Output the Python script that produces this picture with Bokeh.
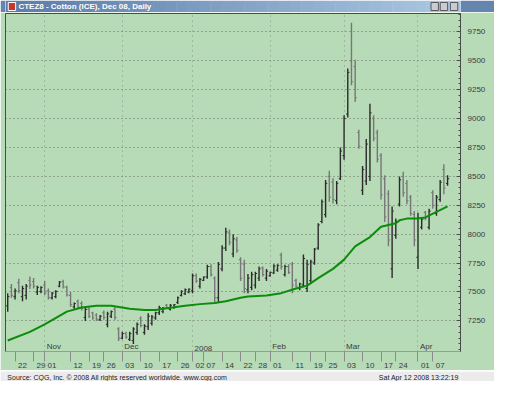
import numpy as np
from bokeh.plotting import figure
from bokeh.models import Range1d, FixedTicker, Label, ColumnDataSource
from bokeh.layouts import column
from bokeh.transform import dodge
from bokeh.embed import file_html
from bokeh.resources import INLINE

TITLE = "CTEZ8 - Cotton (ICE), Dec 08, Daily"
SOURCE = "Source: CQG, Inc. \u00a9 2008 All rights reserved worldwide. www.cqg.com"
STAMP = "Sat Apr 12 2008 13:22:19"

# ---- daily OHLC (one bar per trading day, Oct 18 2007 .. Apr 11 2008) ----
high = [7490, 7570, 7530, 7615, 7555, 7570, 7635, 7620, 7555, 7550,
        7595, 7530, 7500, 7515, 7595, 7605, 7555, 7500, 7410, 7435,
        7420, 7370, 7370, 7330, 7315, 7300, 7340, 7330, 7340, 7370,
        7195, 7155, 7155, 7155, 7195, 7235, 7290, 7220, 7315, 7300,
        7330, 7380, 7370, 7395, 7395, 7395, 7460, 7515, 7530, 7530,
        7660, 7660, 7620, 7635, 7735, 7740, 7635, 7760, 7905, 8055,
        8040, 8000, 7975, 7800, 7780, 7655, 7675, 7675, 7720, 7720,
        7700, 7675, 7740, 7740, 7840, 7735, 7740, 7760, 7615, 7580,
        7825, 7780, 7780, 7880, 8095, 8300, 8470, 8550, 8485, 8460,
        8750, 9030, 9435, 9830, 9510, 8905, 8590, 8825, 9130, 9030,
        8905, 8700, 8510, 8380, 8240, 8135, 8500, 8540, 8470, 8340,
        8200, 8185, 8145, 8200, 8220, 8380, 8340, 8470, 8605, 8510]
low = [7330, 7450, 7435, 7490, 7420, 7435, 7525, 7530, 7475, 7490,
       7475, 7435, 7435, 7445, 7540, 7530, 7460, 7370, 7355, 7355,
       7340, 7250, 7275, 7260, 7250, 7250, 7260, 7195, 7275, 7260,
       7075, 7090, 7095, 7075, 7050, 7130, 7195, 7130, 7170, 7210,
       7260, 7300, 7315, 7355, 7340, 7355, 7395, 7460, 7475, 7490,
       7490, 7580, 7530, 7595, 7615, 7635, 7410, 7410, 7680, 7855,
       7905, 7800, 7840, 7595, 7490, 7490, 7515, 7530, 7595, 7635,
       7595, 7635, 7655, 7675, 7695, 7635, 7655, 7490, 7540, 7515,
       7540, 7500, 7570, 7735, 7865, 8095, 8145, 8280, 8265, 8260,
       8470, 8645, 9010, 9290, 9145, 8740, 8340, 8425, 8460, 8805,
       8620, 8300, 8105, 7895, 7620, 7960, 8240, 8325, 8260, 8160,
       7895, 7700, 8040, 8120, 8040, 8220, 8160, 8280, 8345, 8420]
open_ = [7380, 7540, 7460, 7580, 7460, 7470, 7600, 7590, 7500, 7505,
         7560, 7510, 7450, 7460, 7550, 7590, 7540, 7470, 7370, 7420,
         7400, 7280, 7350, 7320, 7300, 7260, 7320, 7220, 7290, 7350,
         7180, 7100, 7140, 7090, 7080, 7150, 7270, 7150, 7200, 7230,
         7275, 7320, 7330, 7385, 7350, 7365, 7410, 7470, 7485, 7500,
         7510, 7640, 7550, 7600, 7630, 7720, 7620, 7450, 7700, 7880,
         8010, 7830, 7950, 7780, 7740, 7520, 7540, 7560, 7620, 7710,
         7620, 7640, 7665, 7690, 7820, 7650, 7720, 7740, 7600, 7530,
         7560, 7530, 7600, 7750, 7880, 8110, 8170, 8500, 8450, 8290,
         8480, 8680, 9040, 9500, 9450, 8880, 8380, 8460, 8500, 9000,
         8880, 8680, 8480, 8350, 7700, 7990, 8260, 8500, 8440, 8320,
         8170, 7800, 8060, 8190, 8060, 8360, 8180, 8300, 8560, 8440]
close = [7460, 7470, 7510, 7510, 7530, 7550, 7560, 7550, 7540, 7540,
         7490, 7450, 7490, 7505, 7585, 7545, 7475, 7390, 7400, 7370,
         7355, 7350, 7290, 7275, 7265, 7290, 7280, 7310, 7330, 7280,
         7100, 7140, 7110, 7140, 7180, 7220, 7210, 7205, 7290, 7285,
         7320, 7365, 7360, 7365, 7385, 7390, 7450, 7505, 7520, 7525,
         7640, 7595, 7610, 7630, 7720, 7650, 7450, 7740, 7880, 8020,
         7930, 7960, 7860, 7620, 7530, 7620, 7650, 7660, 7700, 7650,
         7680, 7670, 7725, 7730, 7720, 7720, 7670, 7560, 7550, 7570,
         7790, 7740, 7760, 7870, 8080, 8280, 8440, 8320, 8300, 8440,
         8720, 9000, 9400, 9320, 9180, 8760, 8560, 8780, 9050, 8830,
         8650, 8340, 8150, 7950, 8200, 8110, 8470, 8360, 8290, 8180,
         7950, 8140, 8130, 8140, 8200, 8250, 8320, 8450, 8400, 8480]

# ---- moving average ----
ma_x = [0, 6, 10, 16, 20, 24, 28, 33, 37, 40, 43, 48, 52, 56, 59, 63, 65,
        70, 74, 78, 81, 84, 88, 91, 94, 98, 101, 103, 105, 106, 108, 111, 113, 119]
ma_y = [7080, 7155, 7220, 7330, 7365, 7380, 7380, 7355, 7345, 7345, 7360, 7380,
        7395, 7405, 7420, 7450, 7460, 7470, 7490, 7530, 7555, 7620, 7700, 7780,
        7895, 7975, 8065, 8080, 8095, 8120, 8135, 8135, 8145, 8240]

# ---- axis labels ----
y_ticks = [7250, 7500, 7750, 8000, 8250, 8500, 8750, 9000, 9250, 9500, 9750]
date_idx = [2, 7, 10, 17, 22, 26, 31, 36, 41, 46, 50, 53, 58, 63, 67, 71,
            77, 82, 86, 91, 96, 101, 105, 111, 115]
date_labels = ["22", "29", "01", "12", "19", "26", "03", "10", "17", "26", "02",
               "07", "14", "22", "28", "01", "11", "19", "25", "03", "10", "17",
               "24", "01", "07"]
month_idx = [10, 31, 50, 71, 91, 111]
month_labels = ["Nov", "Dec", "2008", "Feb", "Mar", "Apr"]

GREEN = "#b7dab7"
FONT = "Liberation Sans"
W = 494
Y0, Y1 = 6985, 9910

# ================= header (window title bar) =================
head = figure(width=W, height=12, x_range=Range1d(0, W), y_range=Range1d(0, 12),
              x_axis_location=None, y_axis_location=None, min_border=0,
              output_backend="svg", toolbar_location=None)
head.grid.visible = False
head.outline_line_color = None
head.border_fill_color = "#6584ae"
nb = 40
edges = np.linspace(0, W, nb + 1)
c0 = np.array([0x5c, 0x7c, 0xa8])
c1 = np.array([0xab, 0xc8, 0xe3])
cols = ["#%02x%02x%02x" % tuple((c0 + (c1 - c0) * t).astype(int)) for t in np.linspace(0, 1, nb)]
head.quad(left=edges[:-1], right=edges[1:] + 0.5, bottom=0, top=12, fill_color=cols, line_color=None)
head.quad(left=[3], right=[11], bottom=[2], top=[10], fill_color="#c8352e", line_color="#ffffff", line_width=1)
head.quad(left=[462, 472, 483], right=[470, 480, 491], bottom=[2, 2, 2], top=[10, 10, 10],
          fill_color="#c9ccd2", line_color="#5a5a5a", line_width=1)
head.add_layout(Label(x=14, y=6, text=TITLE, text_color="white", text_font_style="bold",
                      text_font=FONT, text_font_size="8px", text_baseline="middle"))

# ================= main chart =================
p = figure(width=W, height=358, x_range=Range1d(-0.6, 122.5), y_range=Range1d(Y0, Y1),
           y_axis_location="right", min_border_left=5, min_border_right=34,
           min_border_top=1, min_border_bottom=10,
           output_backend="svg", toolbar_location=None)
p.background_fill_color = GREEN
p.border_fill_color = GREEN
p.outline_line_color = "#4a4a4a"

yax = p.yaxis[0]
yax.ticker = FixedTicker(ticks=y_ticks, minor_ticks=list(np.arange(7000, 9901, 50)))
yax.major_tick_in = 4
yax.major_tick_out = 0
yax.minor_tick_in = 2
yax.minor_tick_out = 0
yax.major_tick_line_color = "#4a4a4a"
yax.minor_tick_line_color = "#4a4a4a"
yax.axis_line_color = "#4a4a4a"
yax.major_label_standoff = 7
yax.major_label_text_font = FONT
yax.major_label_text_font_size = "8px"
yax.major_label_text_color = "#3c3c3c"

label_pos = [i + 2 for i in date_idx]
xax = p.xaxis[0]
xax.ticker = FixedTicker(ticks=label_pos, minor_ticks=date_idx)
xax.major_label_overrides = {k: v for k, v in zip(label_pos, date_labels)}
xax.major_tick_in = 0
xax.major_tick_out = 0
xax.major_tick_line_color = None
xax.minor_tick_in = 0
xax.minor_tick_out = 10
xax.minor_tick_line_color = "#8c8c8c"
xax.axis_line_color = "#9a9a9a"
xax.major_label_standoff = 1
xax.major_label_text_font = FONT
xax.major_label_text_font_size = "8px"
xax.major_label_text_color = "#3c3c3c"

p.ygrid[0].grid_line_color = "#555555"
p.ygrid[0].grid_line_dash = "1 3"
p.ygrid[0].grid_line_alpha = 0.8
p.xgrid[0].ticker = FixedTicker(ticks=month_idx)
p.xgrid[0].grid_line_color = "#666666"
p.xgrid[0].grid_line_dash = "1 4"
p.xgrid[0].grid_line_alpha = 0.6

colors = ["#2b2b2b" if c >= o else "#777777" for o, c in zip(open_, close)]
src = ColumnDataSource(dict(x=list(range(len(high))), high=high, low=low,
                            open=open_, close=close, color=colors))
p.segment(x0="x", y0="low", x1="x", y1="high", line_color="color", line_width=1.4, source=src)
p.segment(x0=dodge("x", -0.45), y0="open", x1="x", y1="open", line_color="color", line_width=1, source=src)
p.segment(x0="x", y0="close", x1=dodge("x", 0.45), y1="close", line_color="color", line_width=1, source=src)

p.line(ma_x, ma_y, line_color="#0b8c0b", line_width=2)

for m, name in zip(month_idx, month_labels):
    p.add_layout(Label(x=m, y=Y0, text=name, x_offset=2, y_offset=1,
                       text_font=FONT, text_font_size="8px", text_color="#3c3c3c",
                       text_baseline="bottom", text_align="left"))

# ================= footer =================
foot = figure(width=W, height=11, x_range=Range1d(0, W), y_range=Range1d(0, 11),
              x_axis_location=None, y_axis_location=None, min_border=0,
              output_backend="svg", toolbar_location=None)
foot.grid.visible = False
foot.outline_line_color = None
foot.background_fill_color = "#ebebeb"
foot.border_fill_color = "#ebebeb"
foot.add_layout(Label(x=2, y=5, text=SOURCE, text_font=FONT, text_font_size="7px",
                      text_color="#202020", text_baseline="middle"))
foot.add_layout(Label(x=W - 2, y=5, text=STAMP, text_font=FONT, text_font_size="7px",
                      text_color="#202020", text_baseline="middle", text_align="right"))

layout = column(head, p, foot, spacing=0)
open("out.html", "w").write(file_html(layout, INLINE))
